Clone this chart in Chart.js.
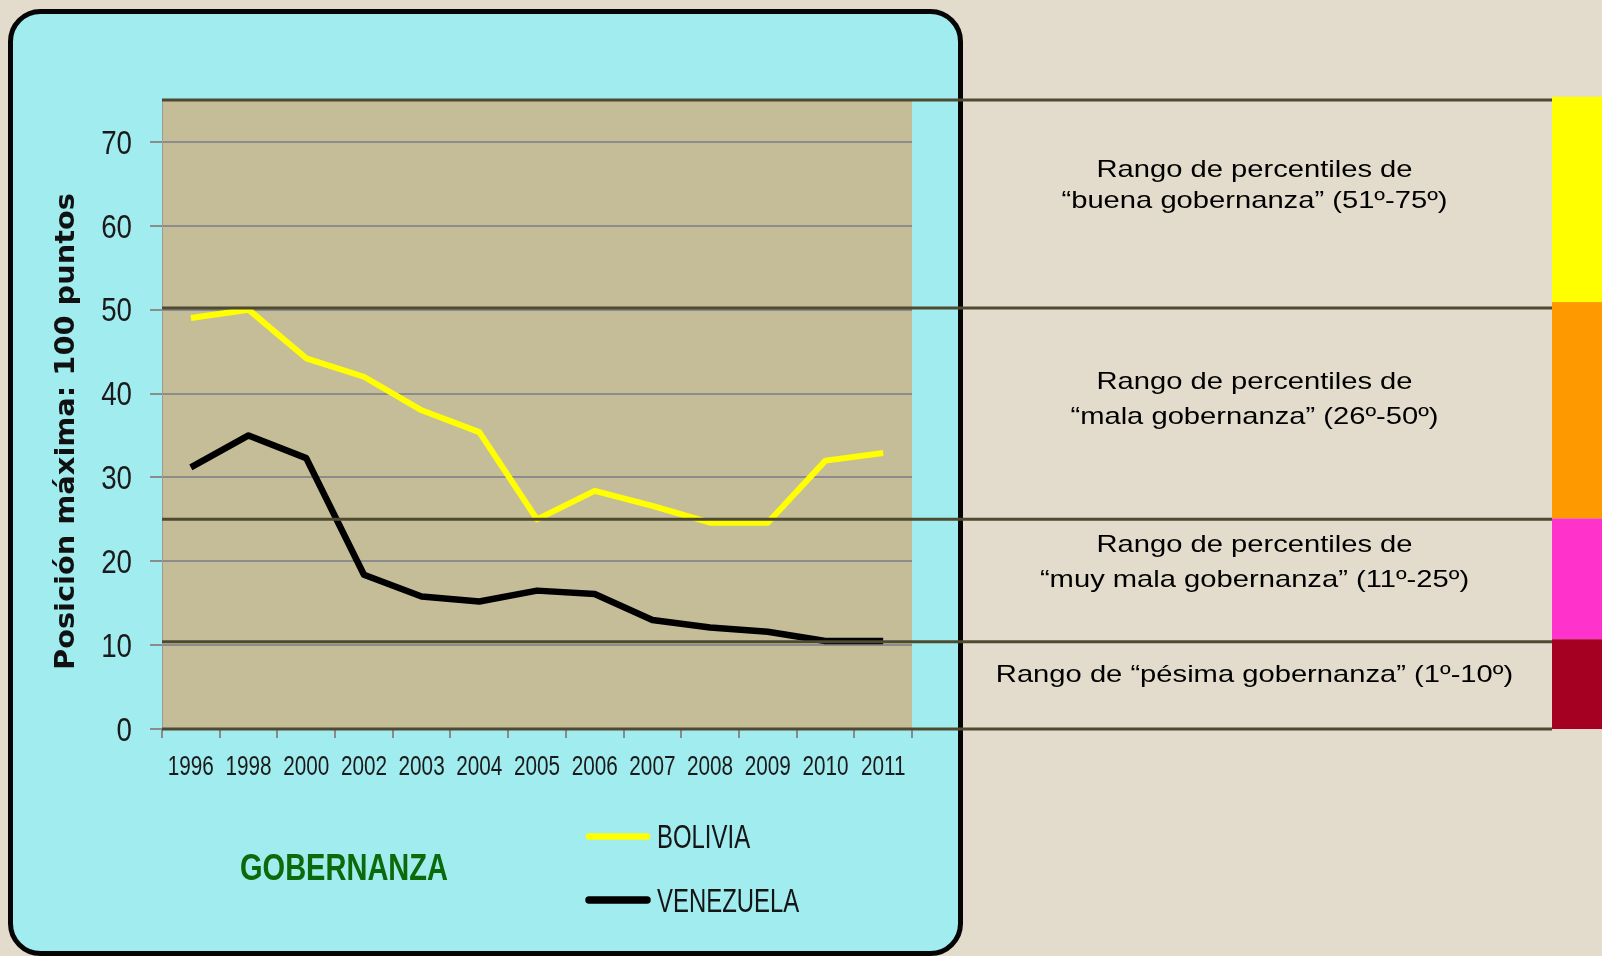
<!DOCTYPE html>
<html>
<head>
<meta charset="utf-8">
<script src="https://cdn.jsdelivr.net/npm/chart.js@4.4.1/dist/chart.umd.min.js"></script>
<style>
html,body{margin:0;padding:0;background:#e3dbcc;}
canvas{display:block;}
</style>
</head>
<body>
<canvas id="c" width="1602" height="956"></canvas>
<script>
// ---- data ----
const years = ['1996','1998','2000','2002','2003','2004','2005','2006','2007','2008','2009','2010','2011'];
const bolivia = [49, 50, 44.2, 42, 38, 35.4, 25, 28.4, 26.6, 24.6, 24.6, 32, 32.9];
const venezuela = [31.2, 35, 32.3, 18.4, 15.8, 15.2, 16.5, 16.1, 13, 12.1, 11.6, 10.5, 10.5];
const yTicks = [0, 10, 20, 30, 40, 50, 60, 70];
const yMin = 0, yMax = 75;
const bandLines = [75, 50.2, 25, 10.4, 0];
const bandTops = [75.4, 50.9, 25.1, 10.7];
const bandBottoms = [50.9, 25.1, 10.7, 0];
const bandColors = ['#ffff00', '#ff9900', '#ff33cc', '#a50021'];
const rangeLabels = [
  ['Rango de percentiles de', '“buena gobernanza” (51º-75º)'],
  ['Rango de percentiles de', '“mala gobernanza” (26º-50º)'],
  ['Rango de percentiles de', '“muy mala gobernanza” (11º-25º)'],
  ['Rango de “pésima gobernanza” (1º-10º)']
];
const yTitle = 'Posición máxima: 100 puntos';
const chartTitle = 'GOBERNANZA';

const SANS = '"Liberation Sans", Arial, sans-serif';

function scaledText(ctx, text, x, y, sx, font, color, align, baseline) {
  ctx.save();
  ctx.font = font;
  ctx.fillStyle = color;
  ctx.textAlign = align;
  ctx.textBaseline = baseline || 'alphabetic';
  ctx.translate(x, y);
  ctx.scale(sx, 1);
  ctx.fillText(text, 0, 0);
  ctx.restore();
}

function roundRect(ctx, x0, y0, x1, y1, r) {
  ctx.beginPath();
  ctx.moveTo(x0 + r, y0);
  ctx.lineTo(x1 - r, y0);
  ctx.arcTo(x1, y0, x1, y0 + r, r);
  ctx.lineTo(x1, y1 - r);
  ctx.arcTo(x1, y1, x1 - r, y1, r);
  ctx.lineTo(x0 + r, y1);
  ctx.arcTo(x0, y1, x0, y1 - r, r);
  ctx.lineTo(x0, y0 + r);
  ctx.arcTo(x0, y0, x0 + r, y0, r);
  ctx.closePath();
}

const decor = {
  id: 'decor',
  beforeDraw(chart) {
    const ctx = chart.ctx, a = chart.chartArea;
    ctx.save();
    ctx.fillStyle = '#e3dbcc';
    ctx.fillRect(0, 0, chart.width, chart.height);
    roundRect(ctx, 10.5, 11.5, 960.5, 953.5, 30);
    ctx.fillStyle = '#a0ecef';
    ctx.fill();
    ctx.lineWidth = 5;
    ctx.strokeStyle = '#050505';
    ctx.stroke();
    ctx.fillStyle = '#c5bd98';
    ctx.fillRect(a.left, a.top, a.right - a.left, a.bottom - a.top);
    ctx.restore();
  },
  afterDatasetsDraw(chart) {
    const ctx = chart.ctx, a = chart.chartArea, ys = chart.scales.y;
    ctx.save();
    ctx.strokeStyle = '#4e4a31';
    ctx.lineWidth = 3;
    bandLines.forEach(v => {
      const py = ys.getPixelForValue(v);
      ctx.beginPath();
      ctx.moveTo(a.left, py);
      ctx.lineTo(1552, py);
      ctx.stroke();
    });
    ctx.restore();
  },
  afterDraw(chart) {
    const ctx = chart.ctx, ys = chart.scales.y, xs = chart.scales.x;
    // tick labels (condensed, through the scales)
    yTicks.forEach(v => {
      scaledText(ctx, String(v), 132, ys.getPixelForValue(v) + 11.8, 0.84, '33px ' + SANS, '#1a1a1a', 'right');
    });
    years.forEach((y, i) => {
      scaledText(ctx, y, xs.getPixelForValue(i), 775, 0.74, '28px ' + SANS, '#1a1a1a', 'center');
    });
    // colour bars
    bandColors.forEach((c, i) => {
      const t = ys.getPixelForValue(bandTops[i]);
      const b = ys.getPixelForValue(bandBottoms[i]);
      ctx.fillStyle = c;
      ctx.fillRect(1552, t, chart.width - 1552, b - t);
    });
    // range labels
    const baselines = [[176.6, 208.3], [389.2, 423.8], [551.7, 587.2], [681.7]];
    rangeLabels.forEach((lines, i) => {
      lines.forEach((txt, j) => {
        scaledText(ctx, txt, 1254.5, baselines[i][j], 1.215, '24px ' + SANS, '#000', 'center');
      });
    });
    // chart title
    ctx.save();
    ctx.font = 'bold 37px ' + SANS;
    const gw = ctx.measureText(chartTitle).width;
    ctx.restore();
    scaledText(ctx, chartTitle, 344, 879.5, 208 / gw, 'bold 37px ' + SANS, '#0b6b0b', 'center');
    // legend
    const legY = [836.5, 900];
    chart.data.datasets.forEach((ds, i) => {
      ctx.save();
      ctx.strokeStyle = ds.borderColor;
      ctx.lineWidth = i === 0 ? 6.5 : 7.5;
      ctx.lineCap = 'round';
      ctx.beginPath();
      ctx.moveTo(589, legY[i]);
      ctx.lineTo(647, legY[i]);
      ctx.stroke();
      ctx.restore();
      scaledText(ctx, ds.label, 657, legY[i] + 11.5, 0.725, '33px ' + SANS, '#151515', 'left');
    });
    // y axis title
    ctx.save();
    const tf = 'bold 26px "DejaVu Sans", Verdana, sans-serif';
    ctx.font = tf;
    const tw = ctx.measureText(yTitle).width;
    ctx.translate(73.5, 431.5);
    ctx.rotate(-Math.PI / 2);
    ctx.scale(477 / tw, 1);
    ctx.fillStyle = '#111';
    ctx.textAlign = 'center';
    ctx.textBaseline = 'alphabetic';
    ctx.fillText(yTitle, 0, 0);
    ctx.restore();
  }
};

new Chart(document.getElementById('c'), {
  type: 'line',
  data: {
    labels: years,
    datasets: [
      { label: 'BOLIVIA', data: bolivia, borderColor: '#ffff00', borderWidth: 6, pointRadius: 0, tension: 0, borderJoinStyle: 'round', fill: false },
      { label: 'VENEZUELA', data: venezuela, borderColor: '#000000', borderWidth: 6.5, pointRadius: 0, tension: 0, borderJoinStyle: 'round', fill: false }
    ]
  },
  options: {
    responsive: false,
    animation: false,
    devicePixelRatio: 1,
    layout: { padding: { left: 0, top: 100, right: 690, bottom: 0 } },
    plugins: { legend: { display: false }, tooltip: { enabled: false }, title: { display: false } },
    scales: {
      x: {
        type: 'category',
        offset: true,
        grid: { offset: true, drawOnChartArea: false, drawTicks: true, tickLength: 9, color: '#8a8a8a', lineWidth: 2 },
        border: { display: false },
        ticks: { display: false, autoSkip: false, maxRotation: 0 },
        afterFit: s => { s.height = 956 - 729; }
      },
      y: {
        min: yMin, max: yMax, bounds: 'data',
        afterBuildTicks: s => { s.ticks = yTicks.map(v => ({ value: v })); },
        grid: { color: '#8c8c8c', lineWidth: 2, tickLength: 12 },
        border: { display: true, color: '#9a9a9a', width: 1 },
        ticks: { display: false },
        afterFit: s => { s.width = 162; }
      }
    }
  },
  plugins: [decor]
});
</script>
</body>
</html>
